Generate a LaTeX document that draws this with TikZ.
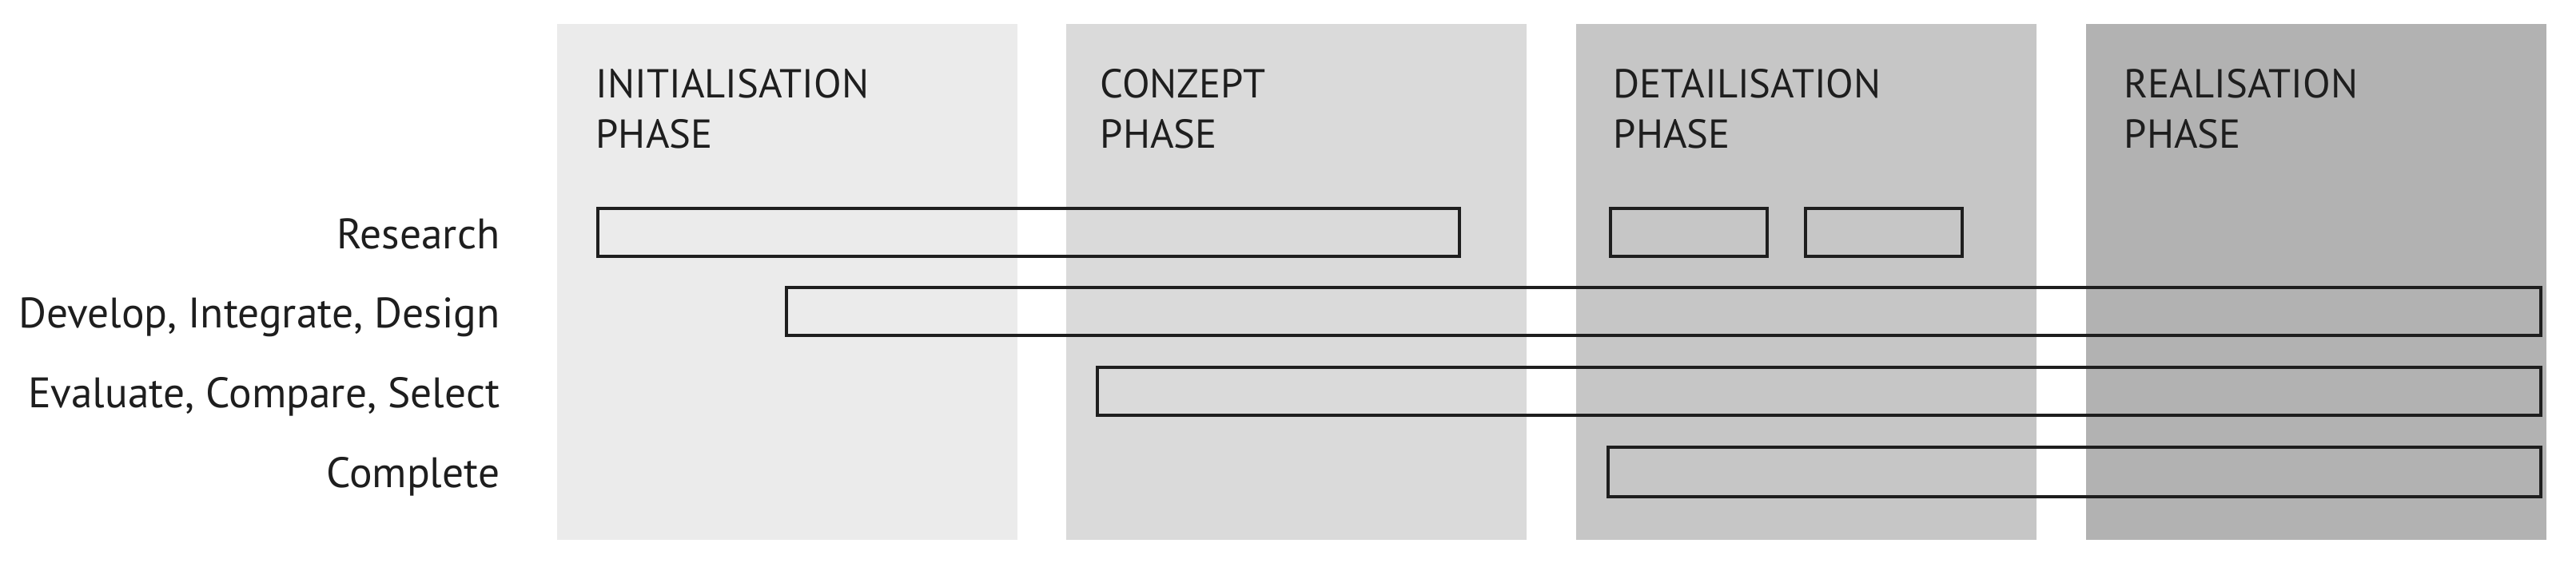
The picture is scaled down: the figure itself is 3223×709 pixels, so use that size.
\documentclass[tikz,border=0pt]{standalone}
\usepackage{fontspec}
\setmainfont{PT Sans}
\definecolor{colA}{HTML}{EBEBEB}
\definecolor{colB}{HTML}{DADADA}
\definecolor{colC}{HTML}{C6C6C6}
\definecolor{colD}{HTML}{B2B2B2}
\definecolor{ink}{HTML}{1E1E1E}
\begin{document}
\begin{tikzpicture}[x=0.1mm,y=-0.1mm,
  phasecol/.style={draw=none, inner sep=0, outer sep=0, minimum width=57.6mm, minimum height=64.6mm, anchor=north west},
  taskbar/.style={draw=ink, line width=1.3pt, inner sep=0, outer sep=0, anchor=north west, minimum height=6mm},
  rowlabel/.style={anchor=base east, inner sep=0, font=\fontsize{15.2}{18}\selectfont, text=ink},
  phasehead/.style={anchor=north west, inner sep=0, align=left, font=\fontsize{14.4}{17.9}\selectfont, text=ink}]
\fill[white] (0,0) rectangle (3223,709);
\useasboundingbox (0,0) rectangle (3223,709);
% phase columns
\node[phasecol, fill=colA] (c1) at (697,30) {};
\node[phasecol, fill=colB] (c2) at (1334,30) {};
\node[phasecol, fill=colC] (c3) at (1972,30) {};
\node[phasecol, fill=colD] (c4) at (2610,30) {};
% headers
\node[phasehead] (h1) at (745,86) {INITIALISATION\\PHASE};
\node[phasehead] (h2) at (1376,86) {CONZEPT\\PHASE};
\node[phasehead] (h3) at (2018,86) {DETAILISATION\\PHASE};
\node[phasehead] (h4) at (2657,86) {REALISATION\\PHASE};
% row labels
\node[rowlabel] (l1) at (626,311) {Research};
\node[rowlabel] (l2) at (626,410) {Develop, Integrate, Design};
\node[rowlabel] (l3) at (626,510) {Evaluate, Compare, Select};
\node[rowlabel] (l4) at (626,610) {Complete};
% bars
\node[taskbar, minimum width=107.8mm] (r1) at (748,261) {};
\node[taskbar, minimum width=19.6mm] (r2) at (2015,261) {};
\node[taskbar, minimum width=19.6mm] (r3) at (2259,261) {};
\node[taskbar, minimum width=219.5mm] (d1) at (984,360) {};
\node[taskbar, minimum width=180.6mm] (e1) at (1373,460) {};
\node[taskbar, minimum width=116.7mm, minimum height=6.2mm] (k1) at (2012,560) {};
\end{tikzpicture}
\end{document}
